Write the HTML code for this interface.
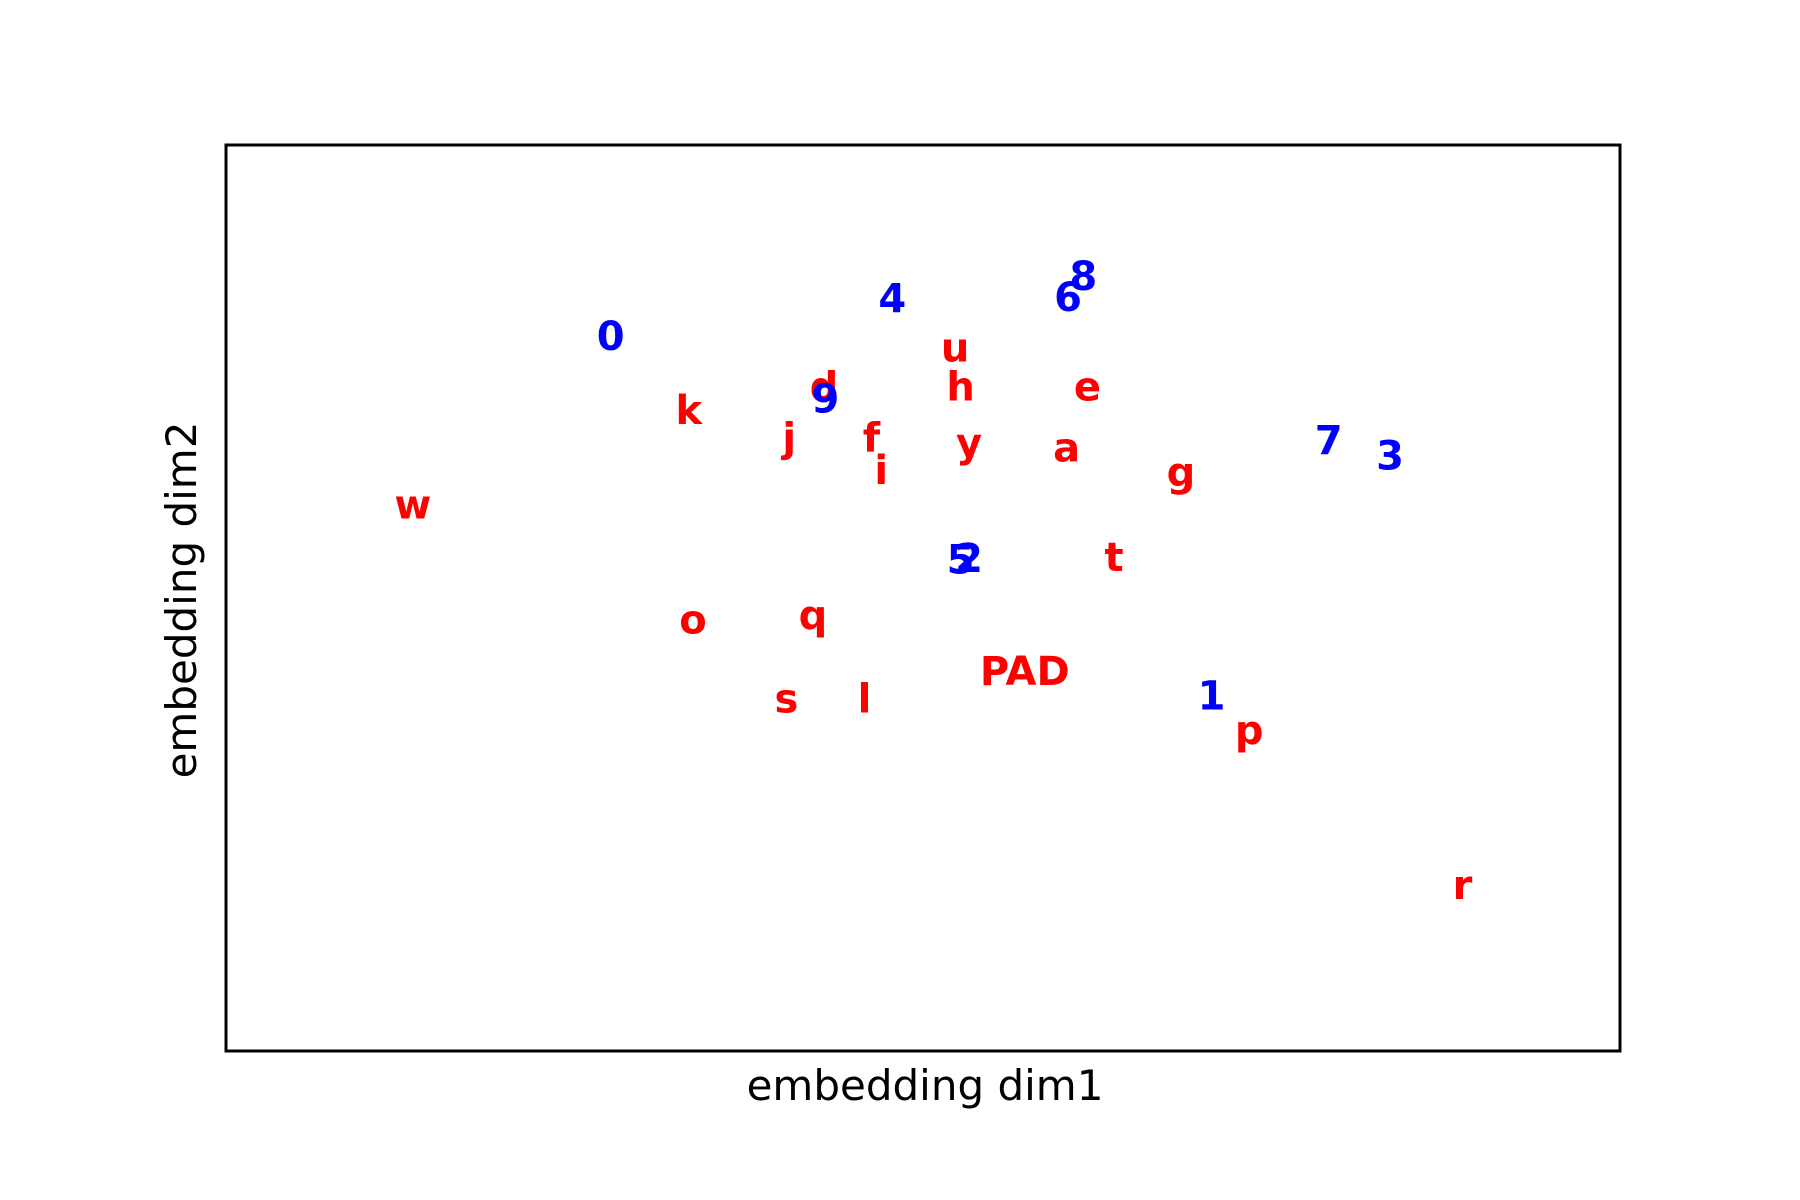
<!DOCTYPE html>
<html>
<head>
<meta charset="utf-8">
<style>
  html, body { margin: 0; padding: 0; background: #fff; }
  svg { display: block; }
  text { font-family: "DejaVu Sans", "Liberation Sans", sans-serif; }
</style>
</head>
<body>
<svg id="chart" width="1800" height="1200" viewBox="0 0 1800 1200">
  <rect x="0" y="0" width="1800" height="1200" fill="#fff"/>
  <g id="points"></g>
  <rect x="226" y="145" width="1394" height="906" fill="none" stroke="#000" stroke-width="3"/>
  <text x="925" y="1100" font-size="42" text-anchor="middle" fill="#000">embedding dim1</text>
  <text x="196" y="600" font-size="42" text-anchor="middle" fill="#000" transform="rotate(-90 196 600)">embedding dim2</text>
</svg>
<script>
const labels = ["0","4","6","8","u","d","9","h","e","k","j","f","y","a","i","g","7","3","w","5","2","t","o","q","PAD","s","l","1","p","r"];
const xValues = [27.6,47.8,60.4,61.5,52.3,42.9,43.0,52.7,61.8,33.2,40.4,46.3,53.3,60.3,47.0,68.5,79.1,83.5,13.4,52.7,53.3,63.7,33.5,42.1,57.3,40.2,45.8,70.7,73.4,88.7];
const yValues = [78.8,82.9,83.1,85.4,77.5,73.2,71.9,73.2,73.2,70.6,67.6,67.6,67.0,66.5,64.0,63.8,67.3,65.6,60.2,54.1,54.3,54.4,47.5,48.0,41.8,38.8,38.8,39.1,35.3,18.2];
const groups = ["digit","digit","digit","digit","char","char","digit","char","char","char","char","char","char","char","char","char","digit","digit","char","digit","digit","char","char","char","char","char","char","digit","char","char"];

const X0 = 226, X1 = 1620, Y0 = 1051, Y1 = 145;
function xScale(v) { return X0 + (v / 100) * (X1 - X0); }
function yScale(v) { return Y0 - (v / 100) * (Y0 - Y1); }

const g = document.getElementById('points');
const NS = 'http://www.w3.org/2000/svg';
const fs = 40;
for (let i = 0; i < labels.length; i++) {
  const t = document.createElementNS(NS, 'text');
  t.setAttribute('x', xScale(xValues[i]).toFixed(1));
  t.setAttribute('y', (yScale(yValues[i]) + fs * 0.32).toFixed(1));
  t.setAttribute('font-size', fs);
  t.setAttribute('font-weight', 'bold');
  t.setAttribute('text-anchor', 'middle');
  t.setAttribute('fill', groups[i] === 'digit' ? '#0000ff' : '#ff0000');
  t.textContent = labels[i];
  
  
  g.appendChild(t);
}
</script>
</body>
</html>
